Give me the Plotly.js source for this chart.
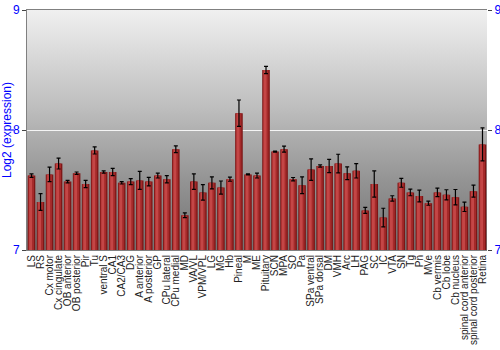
<!DOCTYPE html>
<html><head><meta charset="utf-8">
<script src="https://cdn.plot.ly/plotly-3.0.1.min.js"></script>
<style>
html,body{margin:0;padding:0;background:#fff;}
#wrap{position:relative;width:500px;height:350px;}
#bg{position:absolute;left:27px;top:10px;width:460px;height:240px;background:linear-gradient(to bottom,#f0f0f0 0%,#bcbcbc 42%,#959595 70%,#727272 100%);}
#chart{position:absolute;left:0;top:0;width:500px;height:350px;}
</style></head>
<body><div id="wrap"><div id="bg"></div><div id="chart"></div></div>
<script>
const regions = ["LS","RS","Cx motor","Cx cingulate","OB anterior","OB posterior","Pir","Tu","ventral S","CA1","CA2/CA3","DG","A anterior","A posterior","GP","CPu lateral","CPu medial","MD","VA/VL","VPM/VPL","LG","MG","Hb","Pineal","M","ME","Pituitary","SCN","MPA","SO","Pa","SPa ventral","SPa dorsal","DM","VMH","Arc","LH","PAG","SC","IC","VTA","SN","Tg","Pn","MVe","Cb vermis","Cb lobe","Cb nucleus","spinal cord anterior","spinal cord posterior","Retina"];
const expression = [7.62,7.40,7.63,7.72,7.57,7.64,7.55,7.83,7.65,7.65,7.56,7.57,7.58,7.57,7.62,7.59,7.84,7.29,7.57,7.48,7.56,7.52,7.59,8.14,7.63,7.62,8.50,7.82,7.84,7.59,7.54,7.67,7.70,7.70,7.72,7.64,7.66,7.33,7.55,7.27,7.43,7.56,7.48,7.45,7.39,7.48,7.46,7.44,7.36,7.49,7.88];
const stderr = [0.015,0.07,0.06,0.045,0.01,0.01,0.03,0.03,0.01,0.03,0.01,0.025,0.075,0.035,0.02,0.03,0.028,0.02,0.065,0.065,0.05,0.055,0.017,0.11,0.005,0.02,0.03,0.005,0.025,0.014,0.07,0.09,0.01,0.056,0.078,0.053,0.06,0.025,0.11,0.078,0.022,0.037,0.028,0.049,0.017,0.036,0.042,0.064,0.039,0.05,0.137];
const yTicks = [7,8,9];

const blue = '#0000ff';
const traces = [
  {type:'bar', x:regions, y:expression, width:0.84, marker:{color:'#7c1616', line:{width:0}}, hoverinfo:'skip'},
  {type:'bar', x:regions, y:expression, width:0.62, offset:-0.34, marker:{color:'#a42a2a', line:{width:0}}, hoverinfo:'skip'},
  {type:'bar', x:regions, y:expression, width:0.32, offset:-0.26, marker:{color:'#c44646', line:{width:0}}, hoverinfo:'skip'},
  {type:'bar', x:regions, y:expression, width:0.84, yaxis:'y2', marker:{color:'rgba(0,0,0,0)', line:{width:0}}, hoverinfo:'skip',
   error_y:{type:'data', array:stderr, visible:true, color:'#000', thickness:1.2, width:2}}
];
const layout = {
  width:500, height:350,
  margin:{l:27, r:13, t:10, b:100},
  paper_bgcolor:'rgba(0,0,0,0)', plot_bgcolor:'rgba(0,0,0,0)',
  barmode:'overlay', showlegend:false,
  font:{family:'Liberation Sans, Arial, sans-serif', size:10, color:'#222'},
  xaxis:{tickmode:'array', tickvals:regions, ticktext:regions, tickangle:-90, tickfont:{size:10, color:'#222'}, showline:true, mirror:true, linecolor:'#808080', linewidth:1, ticks:'', showgrid:false, automargin:false},
  yaxis:{range:[7,9], tickvals:yTicks, ticktext:yTicks.map(String), tickfont:{size:12, color:blue}, ticks:'outside', ticklen:4, tickcolor:'#444',
    showgrid:true, gridcolor:'#f4f4f4', gridwidth:1, zeroline:false, showline:true, linecolor:'#808080', linewidth:1,
    title:{text:'Log2 (expression)', font:{size:12, color:blue}, standoff:4}, automargin:false},
  yaxis2:{range:[7,9], overlaying:'y', side:'right', tickvals:yTicks, ticktext:yTicks.map(String), tickfont:{size:12, color:blue}, ticks:'outside', ticklen:4, tickcolor:'#444', showgrid:false, zeroline:false, showline:false, automargin:false}
};
Plotly.newPlot('chart', traces, layout, {staticPlot:true, displayModeBar:false});
</script></body></html>
